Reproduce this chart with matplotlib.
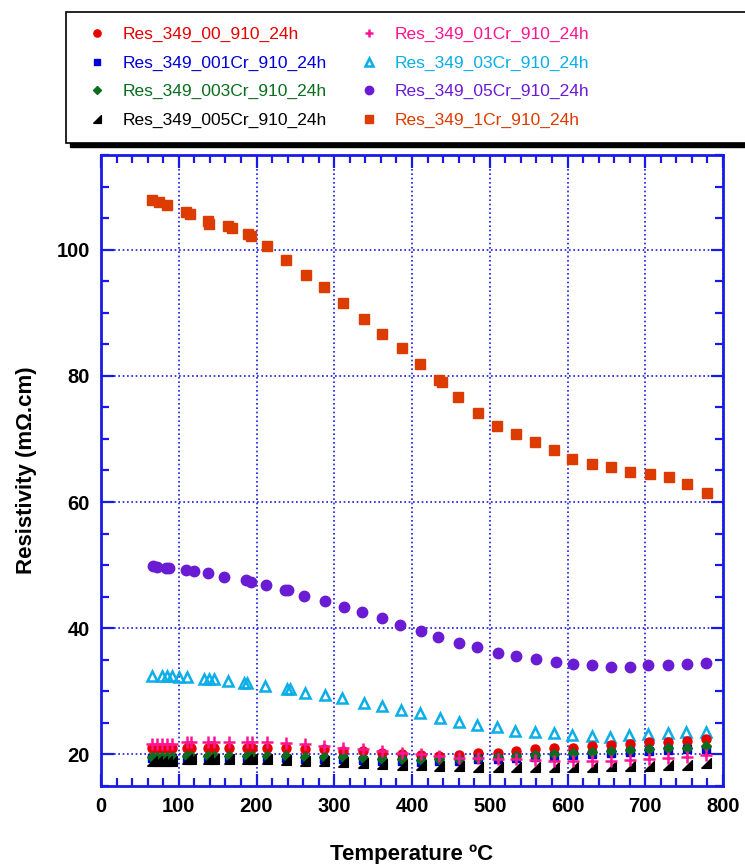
import matplotlib
matplotlib.use("Agg")
import matplotlib.pyplot as plt
from matplotlib.patches import Rectangle
from matplotlib.ticker import MultipleLocator

plt.rcParams['font.family'] = ['Liberation Sans', 'DejaVu Sans']

# ---- data: temperature (degC) and resistivity (mOhm.cm) ----
t_low = [66, 72, 78, 85, 91, 110, 116, 138, 145, 165, 188, 194, 213, 238, 262, 287,
         311, 337, 362, 387, 411, 435, 460, 485, 510, 534, 558, 583, 607, 631, 656,
         680, 705, 729, 754, 778]

r_00 = [21.0, 21.0, 21.0, 21.0, 21.0, 21.1, 21.1, 21.1, 21.1, 21.1, 21.1, 21.1, 21.1,
        21.0, 20.9, 20.8, 20.6, 20.5, 20.3, 20.1, 19.9, 19.8, 19.9, 20.2, 20.3, 20.5,
        20.8, 21.0, 21.1, 21.4, 21.5, 21.7, 21.9, 22.0, 22.2, 22.4]
r_001cr = [19.4, 19.4, 19.4, 19.4, 19.4, 19.5, 19.5, 19.5, 19.5, 19.5, 19.5, 19.5, 19.5,
           19.4, 19.3, 19.3, 19.2, 19.1, 19.0, 18.9, 18.8, 18.9, 19.0, 19.2, 19.3, 19.5,
           19.6, 19.7, 19.9, 20.1, 20.2, 20.4, 20.5, 20.7, 20.8, 20.9]
r_003cr = [19.6, 19.6, 19.6, 19.6, 19.6, 19.8, 19.8, 19.8, 19.8, 19.8, 19.8, 19.8, 19.8,
           19.8, 19.6, 19.6, 19.6, 19.4, 19.3, 19.2, 19.1, 19.2, 19.3, 19.5, 19.6, 19.8,
           19.9, 20.0, 20.2, 20.4, 20.5, 20.7, 20.8, 21.0, 21.1, 21.3]
r_005cr = [18.9, 18.9, 18.9, 19.0, 19.0, 19.2, 19.2, 19.2, 19.2, 19.2, 19.2, 19.2, 19.2,
           19.1, 19.0, 18.9, 18.8, 18.6, 18.5, 18.4, 18.3, 18.2, 18.1, 18.0, 18.0, 18.0,
           18.0, 18.0, 18.0, 18.0, 18.1, 18.1, 18.2, 18.3, 18.4, 18.6]
r_01cr = [21.7, 21.7, 21.7, 21.7, 21.7, 21.9, 21.9, 21.9, 21.9, 21.9, 21.9, 21.9, 21.9,
          21.8, 21.6, 21.3, 21.1, 20.8, 20.5, 20.3, 20.0, 19.8, 19.5, 19.4, 19.2, 19.2,
          19.05, 19.0, 18.9, 19.0, 19.0, 19.1, 19.2, 19.4, 19.6, 19.9]

t_03cr = [66, 79, 85, 91, 100, 111, 132, 139, 145, 163, 184, 188, 211, 239, 243, 263,
          288, 310, 338, 362, 386, 410, 436, 461, 484, 509, 532, 558, 582, 606, 631,
          655, 679, 703, 729, 753, 778]
r_03cr = [32.5, 32.5, 32.5, 32.4, 32.3, 32.2, 31.9, 31.9, 31.9, 31.65, 31.4, 31.4, 30.9,
          30.4, 30.3, 29.8, 29.4, 29.0, 28.2, 27.6, 27.1, 26.6, 25.8, 25.2, 24.7, 24.3,
          23.7, 23.6, 23.4, 23.1, 23.0, 22.7, 23.1, 23.2, 23.4, 23.5, 23.6]

t_05cr = [67, 72, 83, 88, 109, 120, 137, 158, 186, 193, 212, 237, 241, 261, 288, 312,
          336, 362, 385, 411, 434, 460, 484, 510, 534, 560, 585, 607, 631, 656, 681,
          704, 729, 754, 778]
r_05cr = [49.8, 49.7, 49.5, 49.5, 49.3, 49.0, 48.75, 48.2, 47.7, 47.3, 46.9, 46.1, 46.0,
          45.05, 44.3, 43.4, 42.5, 41.6, 40.5, 39.6, 38.6, 37.7, 37.0, 36.1, 35.6, 35.05,
          34.6, 34.3, 34.1, 33.85, 33.85, 34.1, 34.1, 34.3, 34.5]

t_1cr = [66, 75, 85, 109, 115, 137, 139, 163, 169, 189, 193, 213, 238, 264, 287, 311,
         338, 362, 387, 410, 435, 439, 459, 485, 509, 534, 558, 582, 606, 631, 656, 680,
         706, 730, 754, 779]
r_1cr = [107.9, 107.6, 107.0, 105.9, 105.7, 104.5, 104.1, 103.7, 103.5, 102.5, 102.1,
         100.5, 98.4, 96.0, 94.1, 91.5, 89.0, 86.7, 84.4, 81.9, 79.3, 79.0, 76.7, 74.1,
         72.0, 70.8, 69.5, 68.2, 66.8, 66.1, 65.5, 64.8, 64.5, 63.9, 62.9, 61.4]

labels = ["Res_349_00_910_24h", "Res_349_001Cr_910_24h", "Res_349_003Cr_910_24h",
          "Res_349_005Cr_910_24h", "Res_349_01Cr_910_24h", "Res_349_03Cr_910_24h",
          "Res_349_05Cr_910_24h", "Res_349_1Cr_910_24h"]

x_ticks = [0, 100, 200, 300, 400, 500, 600, 700, 800]
y_ticks = [20, 40, 60, 80, 100]

# ---- styling ----
AXIS_BLUE = "#1a1ae6"
wedge = [(-1, -1), (1, -1), (1, 1), (-1, -1)]

fig = plt.figure(figsize=(7.45, 8.64), dpi=100)
ax = fig.add_axes([101 / 745, 78 / 864, 622 / 745, 631 / 864])

h_1cr, = ax.plot(t_1cr, r_1cr, ls="none", marker="s", ms=7.5, color="#dc3c00", mec="#dc3c00")
h_05, = ax.plot(t_05cr, r_05cr, ls="none", marker="o", ms=7.5, color="#6a1bd4", mec="#6a1bd4")
h_03, = ax.plot(t_03cr, r_03cr, ls="none", marker="^", ms=6.5, color="#0aaee8",
                mfc="none", mec="#0aaee8", mew=1.8)
h_00, = ax.plot(t_low, r_00, ls="none", marker="o", ms=6.5, color="#e60000", mec="#e60000")
h_001, = ax.plot(t_low, r_001cr, ls="none", marker="s", ms=5.5, color="#0000d8", mec="#0000d8")
h_003, = ax.plot(t_low, r_003cr, ls="none", marker="D", ms=5, color="#0a6e1e", mec="#0a6e1e")
h_005, = ax.plot(t_low, r_005cr, ls="none", marker=wedge, ms=7, color="black", mec="black")
h_01, = ax.plot(t_low, r_01cr, ls="none", marker="+", ms=8, mew=1.8, color="#ff1493")

ax.set_xlim(0, 800)
ax.set_ylim(15, 115)
ax.set_xticks(x_ticks)
ax.set_yticks(y_ticks)
ax.xaxis.set_minor_locator(MultipleLocator(20))
ax.yaxis.set_minor_locator(MultipleLocator(5))

ax.grid(True, which="major", color=AXIS_BLUE, linestyle=(0, (1, 1.6)), linewidth=1.2)
ax.set_axisbelow(True)
for sp in ax.spines.values():
    sp.set_color(AXIS_BLUE)
    sp.set_linewidth(2)
ax.tick_params(which="both", direction="in", top=True, right=True, color=AXIS_BLUE,
               width=1.6, labelsize=14.5, pad=8)
ax.tick_params(which="major", length=9)
ax.tick_params(which="minor", length=6)
for lab in ax.get_xticklabels() + ax.get_yticklabels():
    lab.set_fontweight("bold")

ax.set_xlabel("Temperature ºC", fontsize=16, fontweight="bold", labelpad=20)
ax.set_ylabel("Resistivity (mΩ.cm)", fontsize=16, fontweight="bold", labelpad=14)

# ---- legend box with drop shadow ----
box_l, box_b, box_w, box_h = 66, 864 - 143, 700, 131
fig.add_artist(Rectangle(((box_l + 4) / 745, (box_b - 4) / 864), box_w / 745, box_h / 864,
                         transform=fig.transFigure, facecolor="black", edgecolor="black",
                         zorder=1))
fig.add_artist(Rectangle((box_l / 745, box_b / 864), box_w / 745, box_h / 864,
                         transform=fig.transFigure, facecolor="white", edgecolor="black",
                         linewidth=1.2, zorder=2))
handles = [h_00, h_001, h_003, h_005, h_01, h_03, h_05, h_1cr]
leg = fig.legend(handles, labels, ncol=2, loc="upper left",
                 bbox_to_anchor=(88 / 745, 1 - 27 / 864), frameon=False,
                 fontsize=12.5, labelcolor="linecolor", handlelength=1.0,
                 handletextpad=1.0, columnspacing=1.9, labelspacing=0.76,
                 markerscale=0.8, borderpad=0, borderaxespad=0)
leg.set_zorder(3)

fig.savefig("out.png", dpi=100)
